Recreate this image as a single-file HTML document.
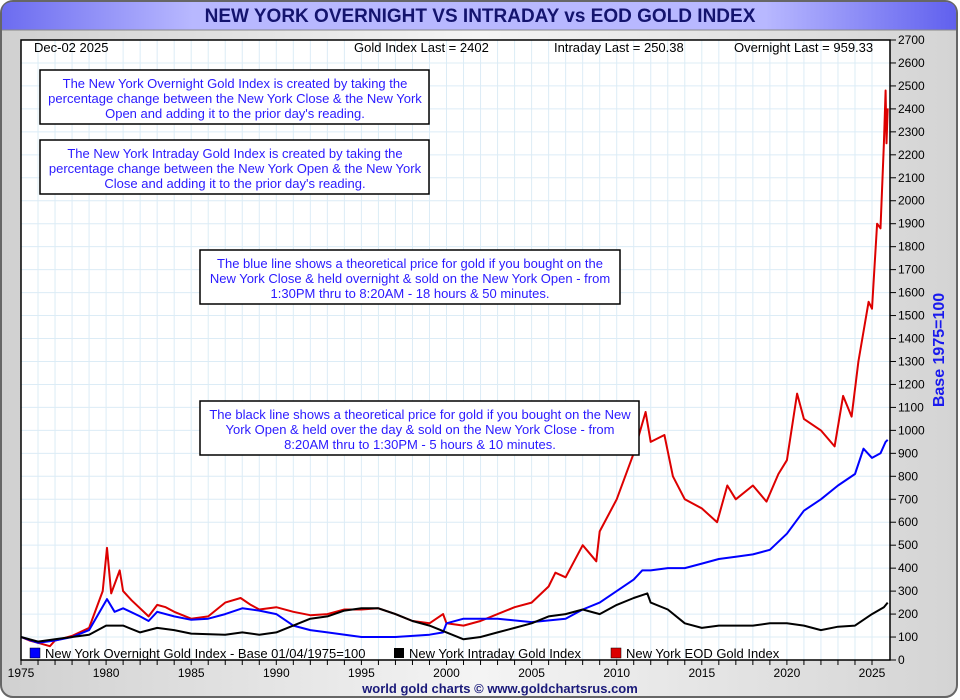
<!DOCTYPE html>
<html><head><meta charset="utf-8"><style>
html,body{margin:0;padding:0;background:#fff}
svg{display:block;font-family:"Liberation Sans",sans-serif}
</style></head><body>
<svg id="c" width="960" height="700" xmlns="http://www.w3.org/2000/svg">
<defs>
<linearGradient id="bg" x1="0" x2="1" y1="0" y2="0"><stop offset="0" stop-color="#d0d0d0"/><stop offset="0.5" stop-color="#f4f4f4"/><stop offset="1" stop-color="#d4d4d4"/></linearGradient>
<linearGradient id="tb" x1="0" x2="1"><stop offset="0" stop-color="#6c6cf0"/><stop offset="0.2" stop-color="#b8b8ff"/><stop offset="0.8" stop-color="#b8b8ff"/><stop offset="1" stop-color="#6060ee"/></linearGradient>
</defs>
<rect x="1" y="1" width="956" height="696" rx="12" fill="url(#bg)" stroke="#666" stroke-width="2"/>
<path d="M2,30 L2,13 Q2,2 13,2 L945,2 Q956,2 956,13 L956,30 Z" fill="url(#tb)"/>
<line x1="2" y1="30" x2="956" y2="30" stroke="#888"/>
<text x="480" y="22" text-anchor="middle" font-size="19" font-weight="bold" fill="#14146e">NEW YORK OVERNIGHT VS INTRADAY vs EOD GOLD INDEX</text>
<rect x="21" y="40" width="869" height="620" fill="#fff"/>
<g id="grid"></g>
<g id="series"></g>
<rect x="21" y="40" width="869" height="620" fill="none" stroke="#000" stroke-width="1.5"/>
<g id="axes"></g>
<g font-size="13" fill="#000">
<text x="34" y="52">Dec-02  2025</text>
<text x="354" y="52">Gold Index Last = 2402</text>
<text x="554" y="52">Intraday Last = 250.38</text>
<text x="734" y="52">Overnight Last = 959.33</text>
</g>
<g font-size="13" fill="#2a1aff" text-anchor="middle">
<g><rect x="40" y="70" width="389" height="54" fill="#fff" stroke="#000" stroke-width="1.5"/>
<text x="235" y="88">The New York Overnight Gold Index is created by taking the</text><text x="235" y="103">percentage change between the New York Close &amp; the New York</text><text x="235" y="118">Open and adding it to the prior day's reading.</text></g>
<g><rect x="40" y="140" width="389" height="54" fill="#fff" stroke="#000" stroke-width="1.5"/>
<text x="235" y="158">The New York Intraday Gold Index is created by taking the</text><text x="235" y="173">percentage change between the New York Open &amp; the New York</text><text x="235" y="188">Close and adding it to the prior day's reading.</text></g>
<g><rect x="200" y="250" width="420" height="54" fill="#fff" stroke="#000" stroke-width="1.5"/>
<text x="410" y="268">The blue line shows a theoretical price for gold if you bought on the</text><text x="410" y="283">New York Close &amp; held overnight &amp; sold on the New York Open - from</text><text x="410" y="298">1:30PM thru to 8:20AM - 18 hours &amp; 50 minutes.</text></g>
<g><rect x="200" y="401" width="439" height="54" fill="#fff" stroke="#000" stroke-width="1.5"/>
<text x="420" y="419">The black line shows a theoretical price for gold if you bought on the New</text><text x="420" y="434">York Open &amp; held over the day &amp; sold on the New York Close - from</text><text x="420" y="449">8:20AM thru to 1:30PM - 5 hours &amp; 10 minutes.</text></g>
</g>
<g font-size="13" fill="#000">
<g><rect x="30" y="648" width="10" height="10" fill="#0000ff" stroke="#000" stroke-width="0.5"/><text x="45" y="658">New York Overnight Gold Index - Base 01/04/1975=100</text></g>
<g><rect x="394" y="648" width="10" height="10" fill="#000"/><text x="409" y="658">New York Intraday Gold Index</text></g>
<g><rect x="611" y="648" width="10" height="10" fill="#dd0000" stroke="#000" stroke-width="0.5"/><text x="626" y="658">New York EOD Gold Index</text></g>
</g>
<text transform="translate(944,350) rotate(-90)" text-anchor="middle" font-size="16" font-weight="bold" fill="#1a1aee">Base 1975=100</text>
<text x="500" y="693" text-anchor="middle" font-size="13" font-weight="bold" fill="#1a1a7a">world gold charts © www.goldchartsrus.com</text>
</svg>
<script>
const years=[1975,1980,1985,1990,1995,2000,2005,2010,2015,2020,2025];
const yTicks=[0,100,200,300,400,500,600,700,800,900,1000,1100,1200,1300,1400,1500,1600,1700,1800,1900,2000,2100,2200,2300,2400,2500,2600,2700];
const redT=[1975,1975.5,1976,1976.7,1977,1978,1979,1979.8,1980.05,1980.3,1980.8,1981,1981.5,1982.5,1983,1983.5,1984,1985,1986,1987,1987.9,1988.5,1989,1990,1991,1992,1993,1994,1995,1996,1997,1998,1999,1999.8,2000,2001,2002,2003,2004,2005,2006,2006.4,2007,2008,2008.8,2009,2010,2011,2011.7,2012,2012.8,2013.3,2014,2015,2015.9,2016.5,2017,2018,2018.8,2019.5,2020,2020.6,2021,2022,2022.8,2023.3,2023.8,2024.2,2024.8,2025,2025.3,2025.5,2025.7,2025.8,2025.85,2025.92];
const redV=[100,85,75,60,85,105,140,300,488,290,390,300,260,190,240,230,210,180,190,250,270,240,220,230,210,195,200,220,220,225,200,170,160,200,160,150,170,200,230,250,320,380,360,500,430,560,700,900,1080,950,980,800,700,660,600,760,700,760,690,810,870,1160,1050,1000,930,1150,1060,1300,1560,1530,1900,1880,2250,2480,2250,2402];
const blueT=[1975,1976,1977,1978,1979,1980.05,1980.5,1981,1982,1982.5,1983,1984,1985,1986,1987,1988,1989,1990,1991,1992,1993,1995,1997,1999,1999.8,2000,2001,2003,2005,2007,2008,2009,2010,2011,2011.5,2012,2013,2014,2015,2016,2017,2018,2019,2020,2021,2022,2023,2024,2024.5,2025,2025.5,2025.8,2025.92];
const blueV=[100,75,85,100,130,265,210,225,190,170,210,190,175,180,200,225,215,200,150,130,120,100,100,110,120,160,180,180,165,180,220,250,300,350,390,390,400,400,420,440,450,460,480,550,650,700,760,810,920,880,900,950,959];
const blackT=[1975,1976,1977,1978,1979,1980,1981,1982,1983,1984,1985,1987,1988,1989,1990,1991,1992,1993,1994,1995,1996,1997,1998,1999,2000,2001,2002,2003,2004,2005,2006,2007,2008,2009,2010,2011,2011.8,2012,2013,2014,2015,2016,2017,2018,2019,2020,2021,2022,2023,2024,2025,2025.7,2025.92];
const blackV=[100,80,90,100,110,150,150,120,140,130,115,110,120,110,120,150,180,190,215,225,225,200,170,150,120,90,100,120,140,160,190,200,220,200,240,270,290,250,220,160,140,150,150,150,160,160,150,130,145,150,200,230,250];
const NS='http://www.w3.org/2000/svg';
const X=t=>21+(t-1975)*17.02, Y=v=>660-v*620/2700;
function mk(tag,at,parent){const e=document.createElementNS(NS,tag);for(const k in at)e.setAttribute(k,at[k]);parent.appendChild(e);return e;}
const grid=document.getElementById('grid'),axes=document.getElementById('axes'),ser=document.getElementById('series');
for(let yr=1976;yr<2026;yr++){const l=mk('line',{x1:X(yr),x2:X(yr),y1:40,y2:660,stroke:'#dcecf6'},grid);

}
yTicks.forEach(v=>{const l=mk('line',{x1:21,x2:890,y1:Y(v),y2:Y(v),stroke:'#dcecf6'},grid);


mk('line',{x1:890,x2:896,y1:Y(v),y2:Y(v),stroke:'#000'},axes);
const t=mk('text',{x:898,y:Y(v)+4,'font-size':12,fill:'#000'},axes);t.textContent=v;

});
for(let yr=1975;yr<=2025;yr++){mk('line',{x1:X(yr),x2:X(yr),y1:660,y2:665,stroke:'#000'},axes);}
years.forEach(yr=>{const t=mk('text',{x:X(yr),y:677,'font-size':12,'text-anchor':'middle',fill:'#000'},axes);t.textContent=yr;

});
function line(T,V,col,name){const d=T.map((t,i)=>(i?'L':'M')+X(t).toFixed(1)+','+Y(V[i]).toFixed(1)).join('');
const p=mk('path',{d:d,fill:'none',stroke:col,'stroke-width':2,'stroke-linejoin':'round'},ser);

}
line(redT,redV,'#dd0000','eod-gold-line');
line(blueT,blueV,'#0000ff','overnight-gold-line');
line(blackT,blackV,'#000000','intraday-gold-line');
</script>
</body></html>
